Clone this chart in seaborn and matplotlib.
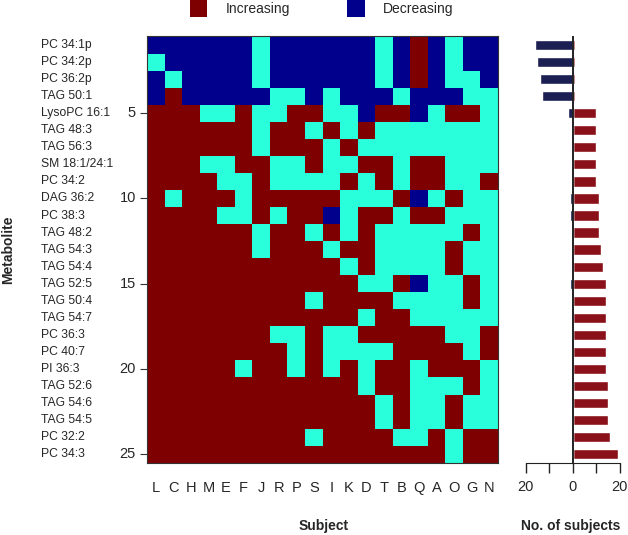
import numpy as np
import pandas as pd
import seaborn as sns
import matplotlib.pyplot as plt
from matplotlib.colors import ListedColormap
from matplotlib.patches import Rectangle
from matplotlib.transforms import blended_transform_factory

sns.set_style('white')
plt.rcParams['font.family'] = ['Liberation Sans', 'DejaVu Sans']

# Data
subjects = list("LCHMEFJRPSIKDTBQAOGN")
metabolites = ['PC 34:1p', 'PC 34:2p', 'PC 36:2p', 'TAG 50:1', 'LysoPC 16:1',
               'TAG 48:3', 'TAG 56:3', 'SM 18:1/24:1', 'PC 34:2', 'DAG 36:2',
               'PC 38:3', 'TAG 48:2', 'TAG 54:3', 'TAG 54:4', 'TAG 52:5',
               'TAG 50:4', 'TAG 54:7', 'PC 36:3', 'PC 40:7', 'PI 36:3',
               'TAG 52:6', 'TAG 54:6', 'TAG 54:5', 'PC 32:2', 'PC 34:3']
row_numbers = [5, 10, 15, 20, 25]

# R = increasing, B = decreasing, C = no change (one string per metabolite, one char per subject)
pattern = ["BBBBBBCBBBBBBCBRBCBB",
           "CBBBBBCBBBBBBCBRBCBB",
           "BCBBBBCBBBBBBCBRBCCB",
           "BRBBBBBCCBCBBBCBBBCC",
           "RRRCCRCCRRCCBRRBCRRC",
           "RRRRRRCRRCRCRCCCCCCC",
           "RRRRRRCRRRCRCCCCCCCC",
           "RRRCCRRCCRCCRRCRRCCC",
           "RRRRCCRCCCCRCRCRRCCR",
           "RCRRRCRRRRRCCCRBCRCC",
           "RRRRCCRCRRBCRRCRRCCC",
           "RRRRRRCRRCRCRCCCCCRC",
           "RRRRRRCRRRCRRCCCCRCC",
           "RRRRRRRRRRRCRCCCCRCC",
           "RRRRRRRRRRRRCCRBCCRC",
           "RRRRRRRRRCRRRRCCCCRC",
           "RRRRRRRRRRRRCRRCCCCC",
           "RRRRRRRCCRCCRRRRRCCR",
           "RRRRRRRRCRCCCCRRRRCR",
           "RRRRRCRRCRCRCRRCRRRC",
           "RRRRRRRRRRRRCRRCCCRC",
           "RRRRRRRRRRRRRCRCCRCC",
           "RRRRRRRRRRRRRCRCCRCC",
           "RRRRRRRRRCRRRRCCRCRR",
           "RRRRRRRRRRRRRRRRRCRR"]

codes = {'B': -1, 'C': 0, 'R': 1}
grid = pd.DataFrame([[codes[c] for c in row] for row in pattern],
                    index=metabolites, columns=subjects)

counts = pd.DataFrame({'metabolite': metabolites,
                       'inc': (grid == 1).sum(axis=1).values,
                       'dec': -(grid == -1).sum(axis=1).values})

# Colours
c_dec, c_none, c_inc = '#00008C', '#2AFFDB', '#7F0000'
bar_inc, bar_dec = '#8A111A', '#1C1F52'

W, H = 628, 535
fig = plt.figure(figsize=(W / 100, H / 100), dpi=100)
top_px, bot_px = 36.5, 462.7
ax = fig.add_axes([147 / W, 1 - bot_px / H, 351 / W, (bot_px - top_px) / H])

sns.heatmap(grid, cmap=ListedColormap([c_dec, c_none, c_inc]), vmin=-1.5, vmax=1.5,
            cbar=False, ax=ax)
for s in ax.spines.values():
    s.set_visible(True)
    s.set_linewidth(0.8)
    s.set_color('#333333')

ax.set_yticks([n - 0.5 for n in row_numbers])
ax.set_yticklabels([str(n) for n in row_numbers], rotation=0)
ax.set_xticklabels(subjects, rotation=0)
ax.tick_params(axis='x', length=0, pad=13, labelsize=10.5)
ax.tick_params(axis='y', length=5, width=0.8, pad=3, labelsize=10.5, left=True, color='#333333')
ax.set_xlabel('')
ax.set_ylabel('')

trans = blended_transform_factory(ax.transAxes, ax.transData)
for i, name in enumerate(metabolites):
    ax.text(-0.303, i + 0.5, name, transform=trans, ha='left', va='center', fontsize=8.7)

# Bar panel
axb = fig.add_axes([520.8 / W, 1 - bot_px / H, 103.8 / W, (bot_px - top_px) / H])
sns.barplot(data=counts, x='inc', y='metabolite', orient='h', color=bar_inc,
            saturation=1, width=0.6, ax=axb)
sns.barplot(data=counts, x='dec', y='metabolite', orient='h', color=bar_dec,
            saturation=1, width=0.6, ax=axb)
axb.set_ylim(24.5, -0.5)
axb.set_xlim(-22, 22)
axb.axvline(0, color='#222222', lw=1.4)
for side in ['left', 'top', 'right']:
    axb.spines[side].set_visible(False)
axb.spines['bottom'].set_bounds(-20, 20)
axb.spines['bottom'].set_color('#222222')
axb.set_xticks([-20, -10, 0, 10, 20])
axb.set_xticklabels(['20', '', '0', '', '20'])
axb.tick_params(axis='x', length=7.5, width=1, pad=5, labelsize=10.5, bottom=True, color='#222222')
axb.set_yticks([])
axb.set_xlabel('')
axb.set_ylabel('')

# Titles
fig.text(8 / W, 1 - 250 / H, 'Metabolite', rotation=90, ha='center', va='center',
         fontsize=10, fontweight='bold')
fig.text(324 / W, 1 - 526 / H, 'Subject', ha='center', va='center',
         fontsize=10, fontweight='bold')
fig.text(571 / W, 1 - 526 / H, 'No. of subjects', ha='center', va='center',
         fontsize=10, fontweight='bold')

# Legend keys
for x0, col, label in [(190, c_inc, 'Increasing'), (347.3, c_dec, 'Decreasing')]:
    fig.add_artist(Rectangle((x0 / W, 1 - 16.7 / H), 17.4 / W, 16.4 / H,
                             facecolor=col, edgecolor='none', transform=fig.transFigure))
    fig.text((x0 + 35.3) / W, 1 - 12.7 / H, label, ha='left', va='baseline', fontsize=10)

fig.savefig('out.png', dpi=100)
